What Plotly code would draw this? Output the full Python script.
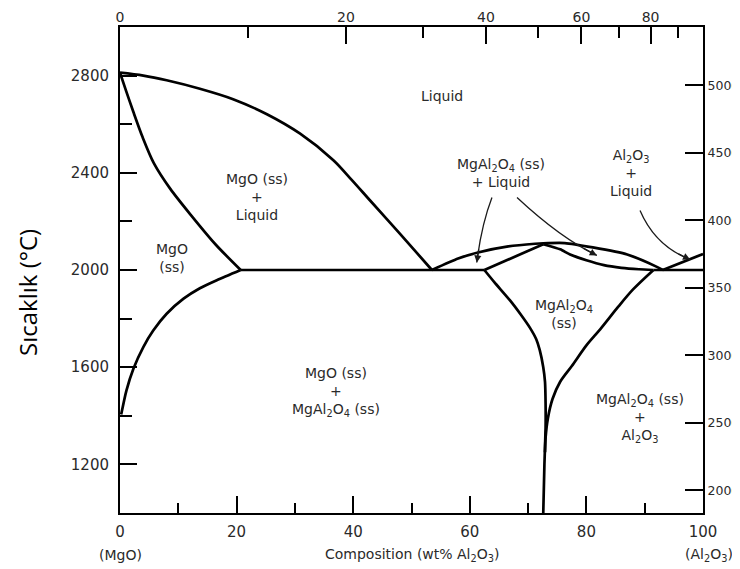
import plotly.graph_objects as go

# ---------------- data (wt% Al2O3, temperature in deg C) ----------------
mgo_liquidus_w = [0, 4.0, 8.0, 13.7, 19.4, 25.2, 30.9, 36.6, 39.7, 42.9, 48.0, 53.5]
mgo_liquidus_T = [2812, 2800, 2781, 2746, 2703, 2641, 2561, 2452, 2372, 2286, 2150, 2000]

mgo_solidus_w = [0, 1.0, 2.3, 3.9, 5.8, 8.6, 12.2, 16.4, 20.7]
mgo_solidus_T = [2812, 2740, 2650, 2545, 2440, 2335, 2225, 2105, 2000]

mgo_solvus_w = [0.2, 1.1, 2.3, 4.0, 5.7, 8.0, 10.9, 13.7, 16.6, 20.7]
mgo_solvus_T = [1405, 1504, 1594, 1683, 1751, 1820, 1882, 1925, 1958, 2000]

eutectic_left_w = [20.7, 62.5]
eutectic_left_T = [2000, 2000]
eutectic_right_w = [91.5, 100]
eutectic_right_T = [2000, 2000]

spinel_liquidus_w = [53.5, 58.0, 61.4, 66.6, 71.2, 72.6, 76.3, 81.1, 87.0, 92.0, 93.1]
spinel_liquidus_T = [2000, 2047, 2072, 2097, 2108, 2110, 2111, 2093, 2064, 2014, 2000]

spinel_solidus_left_w = [62.5, 72.6]
spinel_solidus_left_T = [2000, 2106]

spinel_solidus_right_w = [72.6, 75.5, 77.2, 80.0, 83.0, 86.0, 89.0, 91.5]
spinel_solidus_right_T = [2106, 2085, 2064, 2040, 2020, 2009, 2003, 2000]

al2o3_liquidus_w = [93.1, 96.6, 100]
al2o3_liquidus_T = [2000, 2035, 2066]

spinel_solvus_left_w = [62.5, 64.2, 66.9, 68.8, 70.3, 71.4, 72.0, 72.6, 72.9, 73.0, 73.0, 72.8, 72.6]
spinel_solvus_left_T = [2000, 1950, 1875, 1815, 1763, 1715, 1670, 1600, 1540, 1450, 1350, 1200, 1000]

spinel_solvus_right_w = [91.5, 88.0, 85.5, 82.5, 80.0, 77.5, 75.5, 74.2, 73.4, 73.0, 72.9]
spinel_solvus_right_T = [2000, 1920, 1850, 1760, 1690, 1605, 1540, 1470, 1390, 1310, 1250]

# region labels: (text, wt%, degC)
region_labels = [
    ("Liquid", 55.2, 2718),
    ("MgO (ss)<br>+<br>Liquid", 23.5, 2300),
    ("MgO<br>(ss)", 8.9, 2051),
    ("MgAl<sub>2</sub>O<sub>4</sub> (ss)<br>+ Liquid", 65.4, 2401),
    ("Al<sub>2</sub>O<sub>3</sub><br>+<br>Liquid", 87.7, 2401),
    ("MgAl<sub>2</sub>O<sub>4</sub><br>(ss)", 76.2, 1817),
    ("MgO (ss)<br>+<br>MgAl<sub>2</sub>O<sub>4</sub> (ss)", 37.0, 1500),
    ("MgAl<sub>2</sub>O<sub>4</sub> (ss)<br>+<br>Al<sub>2</sub>O<sub>3</sub>", 89.2, 1389),
]

# pointer arrows: start, control, tip  (wt%, degC)
pointers = [
    ((63.8, 2298), (62.0, 2185), (61.2, 2031)),
    ((68.1, 2298), (75.6, 2130), (81.8, 2060)),
    ((89.2, 2245), (91.8, 2099), (97.8, 2043)),
]

# axis ticks
bottom_ticks = [0, 20, 40, 60, 80, 100]
bottom_minor = [10, 30, 50, 70, 90]
left_ticks = [1200, 1600, 2000, 2400, 2800]
left_minor = [1400, 1800, 2200, 2600]
top_mol_ticks = [0, 20, 40, 60, 80]
top_mol_minor = [10, 30, 50, 70, 90]
right_F_ticks = [2000, 2500, 3000, 3500, 4000, 4500, 5000]

M_AL2O3 = 101.96
M_MGO = 40.30


def mol_to_wt(m):
    a = m * M_AL2O3
    b = (100 - m) * M_MGO
    return 100.0 * a / (a + b)


def c_to_f(c):
    return c * 9.0 / 5.0 + 32.0


T_MIN, T_MAX = 1000, 3000

fig = go.Figure()

curves = [
    (mgo_liquidus_w, mgo_liquidus_T, 0.9),
    (mgo_solidus_w, mgo_solidus_T, 0.8),
    (mgo_solvus_w, mgo_solvus_T, 0.7),
    (eutectic_left_w, eutectic_left_T, None),
    (eutectic_right_w, eutectic_right_T, None),
    (spinel_liquidus_w, spinel_liquidus_T, 0.6),
    (spinel_solidus_left_w, spinel_solidus_left_T, None),
    (spinel_solidus_right_w, spinel_solidus_right_T, 0.6),
    (al2o3_liquidus_w, al2o3_liquidus_T, None),
    (spinel_solvus_left_w, spinel_solvus_left_T, 0.6),
    (spinel_solvus_right_w, spinel_solvus_right_T, 0.8),
]
for w, T, smooth in curves:
    if smooth is None:
        ln = dict(color="black", width=2.7, shape="linear")
    else:
        ln = dict(color="black", width=2.7, shape="spline", smoothing=smooth)
    fig.add_trace(go.Scatter(x=w, y=T, mode="lines", line=ln,
                             hoverinfo="skip", showlegend=False))

# dummy trace to register the secondary (top / right) axes
fig.add_trace(go.Scatter(x=[None], y=[None], xaxis="x2", yaxis="y2",
                         hoverinfo="skip", showlegend=False))

label_font = dict(family="DejaVu Sans", size=14, color="#2a2a2a")
for text, w, T in region_labels:
    fig.add_annotation(x=w, y=T, xref="x", yref="y", text=text, showarrow=False,
                       font=label_font, xanchor="center", yanchor="middle")

for p0, p1, p2 in pointers:
    fig.add_shape(type="path", xref="x", yref="y",
                  path=f"M {p0[0]},{p0[1]} Q {p1[0]},{p1[1]} {p2[0]},{p2[1]}",
                  line=dict(color="#1a1a1a", width=1.3))
    t = 0.8
    bx = (1 - t) ** 2 * p0[0] + 2 * (1 - t) * t * p1[0] + t ** 2 * p2[0]
    by = (1 - t) ** 2 * p0[1] + 2 * (1 - t) * t * p1[1] + t ** 2 * p2[1]
    fig.add_annotation(x=p2[0], y=p2[1], ax=bx, ay=by, xref="x", yref="y",
                       axref="x", ayref="y", text="", showarrow=True,
                       arrowhead=2, arrowsize=1.1, arrowwidth=1.3, arrowcolor="#1a1a1a")

tick_font = dict(family="DejaVu Sans", size=15, color="#2a2a2a")
axis_common = dict(showline=True, linecolor="black", linewidth=2, showgrid=False,
                   zeroline=False, ticks="inside", tickcolor="black", tickwidth=1.8,
                   automargin=False)

# the page body adds an 8px offset; figure is sized so the plot lands where the reference has it
fig.update_layout(
    width=732, height=561, autosize=False,
    margin=dict(l=112, r=37, t=19, b=56, pad=0),
    paper_bgcolor="white", plot_bgcolor="white",
    showlegend=False,
    xaxis=dict(range=[0, 100], tickmode="array", tickvals=bottom_ticks,
               ticktext=[str(v) for v in bottom_ticks], ticklen=17,
               tickfont=tick_font, ticklabelstandoff=4,
               minor=dict(tickmode="array", tickvals=bottom_minor, ticks="inside",
                          ticklen=10, tickwidth=1.8, tickcolor="black"),
               **axis_common),
    xaxis2=dict(range=[0, 100], overlaying="x", side="top", anchor="y",
                tickmode="array", tickvals=[mol_to_wt(m) for m in top_mol_ticks],
                ticktext=[str(m) for m in top_mol_ticks], ticklen=17,
                tickfont=dict(family="DejaVu Sans", size=14, color="#2a2a2a"),
                ticklabelstandoff=-3,
                minor=dict(tickmode="array", tickvals=[mol_to_wt(m) for m in top_mol_minor],
                           ticks="inside", ticklen=11, tickwidth=1.8, tickcolor="black"),
                **axis_common),
    yaxis=dict(range=[T_MIN, T_MAX], tickmode="array", tickvals=left_ticks,
               ticktext=[str(v) for v in left_ticks], ticklen=17,
               tickfont=tick_font, ticklabelstandoff=6,
               minor=dict(tickmode="array", tickvals=left_minor, ticks="inside",
                          ticklen=12, tickwidth=1.8, tickcolor="black"),
               **axis_common),
    yaxis2=dict(range=[c_to_f(T_MIN), c_to_f(T_MAX)], overlaying="y", side="right",
                anchor="x", tickmode="array", tickvals=right_F_ticks,
                ticktext=[str(v) for v in right_F_ticks], ticklen=18,
                tickfont=dict(family="DejaVu Sans", size=12.5, color="#2a2a2a"),
                ticklabelstandoff=0,
                **axis_common),
)

# axis captions
cap_font = dict(family="DejaVu Sans", size=14, color="#2a2a2a")
fig.add_annotation(x=50, y=0, xref="x", yref="paper", yshift=-42,
                   text="Composition (wt% Al<sub>2</sub>O<sub>3</sub>)",
                   showarrow=False, font=cap_font, xanchor="center", yanchor="middle")
fig.add_annotation(x=0, y=0, xref="x", yref="paper", yshift=-42, text="(MgO)",
                   showarrow=False, font=cap_font, xanchor="center", yanchor="middle")
fig.add_annotation(x=100, y=0, xref="x", yref="paper", yshift=-42, xshift=6,
                   text="(Al<sub>2</sub>O<sub>3</sub>)",
                   showarrow=False, font=cap_font, xanchor="center", yanchor="middle")
fig.add_annotation(x=0, y=0.4527, xref="paper", yref="paper", xshift=-92,
                   text="Sıcaklık (°C)", textangle=-90, showarrow=False,
                   font=dict(family="Open Sans", size=24, color="black"),
                   xanchor="center", yanchor="middle")

fig.write_html("out.html")
